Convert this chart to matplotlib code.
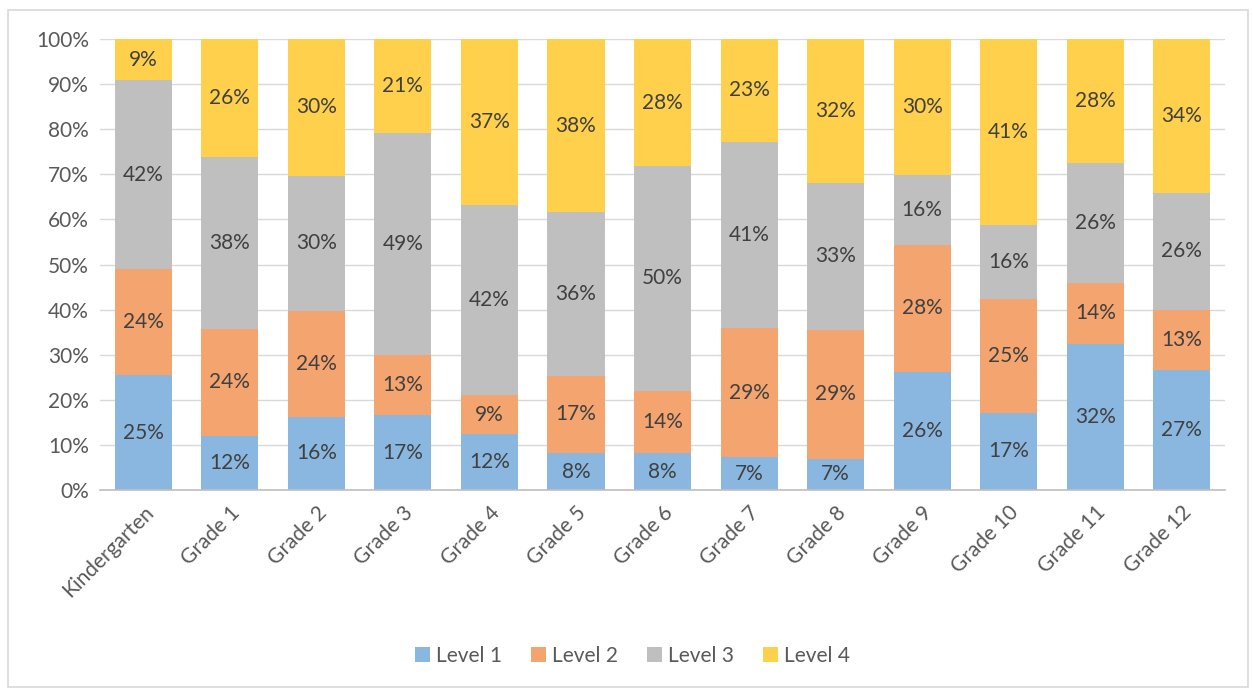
import matplotlib.pyplot as plt
from matplotlib.ticker import PercentFormatter, MultipleLocator
from matplotlib.patches import Rectangle

# grade levels and share of students at each level
grades = ['Kindergarten', 'Grade 1', 'Grade 2', 'Grade 3', 'Grade 4', 'Grade 5',
          'Grade 6', 'Grade 7', 'Grade 8', 'Grade 9', 'Grade 10', 'Grade 11', 'Grade 12']
level1 = [25.4, 12.0, 16.2, 16.6, 12.4, 8.2, 8.2, 7.3, 6.9, 26.2, 17.1, 32.4, 26.6]
level2 = [23.6, 23.7, 23.6, 13.3, 8.6, 17.1, 13.8, 28.6, 28.6, 28.1, 25.3, 13.6, 13.4]
level3 = [41.9, 38.1, 29.9, 49.3, 42.2, 36.3, 49.8, 41.3, 32.6, 15.6, 16.4, 26.4, 25.8]
level4 = [9.1, 26.2, 30.3, 20.8, 36.8, 38.4, 28.2, 22.8, 31.9, 30.1, 41.2, 27.6, 34.2]

series = [('Level 1', level1, '#8AB7E0'),
          ('Level 2', level2, '#F4A46E'),
          ('Level 3', level3, '#BFBFBF'),
          ('Level 4', level4, '#FFD04B')]

plt.rcParams['font.family'] = ['Lato', 'DejaVu Sans']

fig = plt.figure(figsize=(12.53, 6.89), dpi=100)
ax = fig.add_axes([0.0798, 0.2888, 0.8979, 0.6546])

# light border round the whole chart
fig.patches.append(Rectangle((0.006, 0.003), 0.99, 0.983, transform=fig.transFigure,
                             fill=False, edgecolor='#D9D9D9', linewidth=1.2))

x = list(range(len(grades)))
bottom = [0.0] * len(grades)
for name, vals, color in series:
    ax.bar(x, vals, 0.66, bottom=bottom, color=color, label=name, zorder=2)
    for i, v in enumerate(vals):
        ax.text(i, bottom[i] + v / 2, f"{round(v)}%", ha='center', va='center',
                fontsize=15, color='#404040', zorder=3)
    bottom = [b + v for b, v in zip(bottom, vals)]

ax.set_xlim(-0.5, len(grades) - 0.5)
ax.set_ylim(0, 100)
ax.yaxis.set_major_locator(MultipleLocator(10))
ax.yaxis.set_major_formatter(PercentFormatter(decimals=0))
ax.grid(axis='y', color='#D9D9D9', linewidth=1, zorder=0)
ax.set_axisbelow(True)

for side in ['top', 'right', 'left']:
    ax.spines[side].set_visible(False)
ax.spines['bottom'].set_color('#BFBFBF')
ax.spines['bottom'].set_linewidth(1.2)

ax.set_xticks(x)
ax.set_xticklabels(grades, rotation=45, ha='right', rotation_mode='anchor')
ax.tick_params(axis='both', length=0, labelsize=15, labelcolor='#595959')
ax.tick_params(axis='x', pad=9)
ax.tick_params(axis='y', pad=8)

fig.legend(loc='center', bbox_to_anchor=(0.505, 0.048), ncol=4, frameon=False,
           fontsize=15, handlelength=0.7, handleheight=0.7, handletextpad=0.3,
           columnspacing=1.4, labelcolor='#595959')

fig.savefig('out.png', dpi=100)
